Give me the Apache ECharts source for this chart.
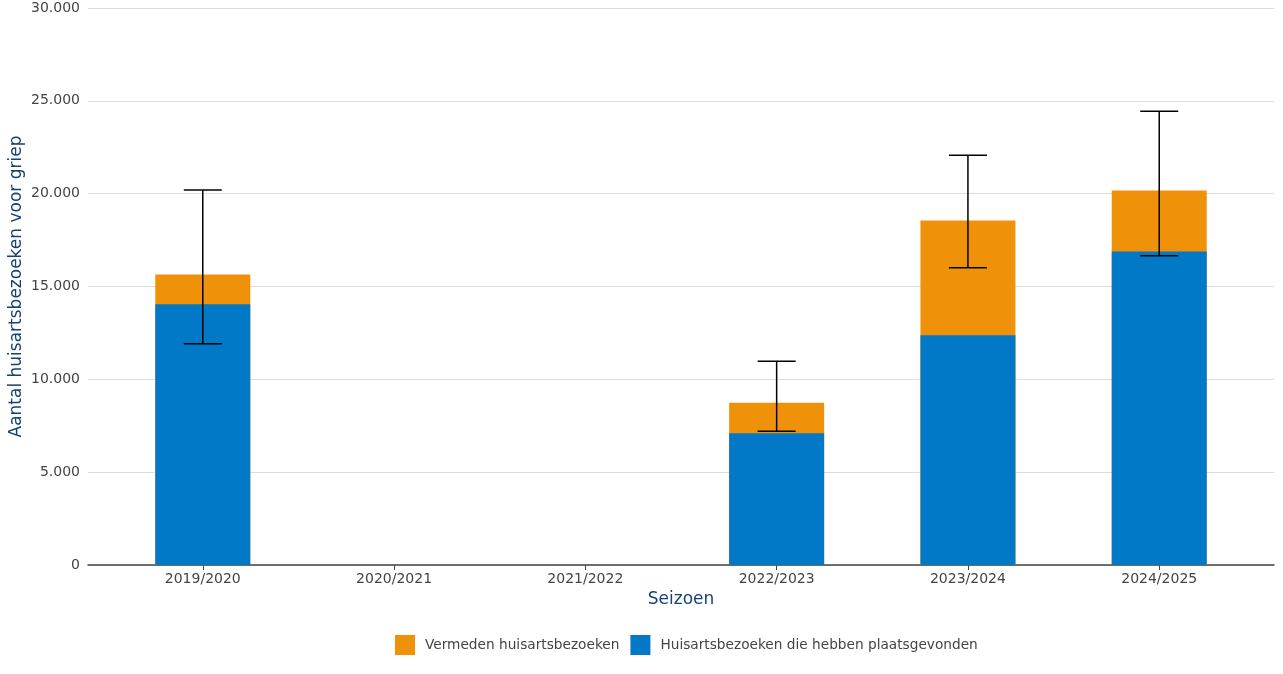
<!DOCTYPE html>
<html>
<head>
<meta charset="utf-8">
<script src="https://cdn.jsdelivr.net/npm/echarts@6/dist/echarts.min.js"></script>
<style>
html,body{margin:0;padding:0;background:#fff;}
#chart{width:1283px;height:674px;}
</style>
</head>
<body>
<div id="chart"></div>
<script>
// Data
const categories = ['2019/2020', '2020/2021', '2021/2022', '2022/2023', '2023/2024', '2024/2025'];
const occurredVisits = [14050, null, null, 7090, 12370, 16880];   // Huisartsbezoeken die hebben plaatsgevonden
const avoidedVisits  = [1600,  null, null, 1650, 6180, 3290];     // Vermeden huisartsbezoeken
const errorLow  = [11920, null, null, 7200, 16010, 16660];
const errorHigh = [20200, null, null, 10970, 22070, 24440];
const yTicks = [0, 5000, 10000, 15000, 20000, 25000, 30000];

const nameOccurred = 'Huisartsbezoeken die hebben plaatsgevonden';
const nameAvoided = 'Vermeden huisartsbezoeken';

const FONT = 'DejaVu Sans';
const TITLE_COLOR = '#154273';
const TEXT_COLOR = '#444';

function fmt(v) {
  return String(v).replace(/\B(?=(\d{3})+(?!\d))/g, '.');
}

const idx = categories.map((c, i) => i);
const valid = idx.filter(i => occurredVisits[i] != null);
// blue part (bottom of stack)
const occData = valid.map(i => [i, occurredVisits[i]]);
// orange part sits on top of the blue part: drawn as the stack total behind the blue bar
const totalData = valid.map(i => [i, occurredVisits[i] + avoidedVisits[i]]);
const errData = idx.filter(i => errorLow[i] != null).map(i => [i, errorLow[i], errorHigh[i]]);

const chart = echarts.init(document.getElementById('chart'), null, {renderer: 'canvas'});

chart.setOption({
  animation: false,
  backgroundColor: '#fff',
  textStyle: {fontFamily: FONT},
  grid: {left: 88, right: 9, top: 8, bottom: 109, containLabel: false, outerBoundsMode: 'none'},
  legend: {
    data: [nameAvoided, nameOccurred],
    left: 395,
    top: 635,
    padding: 0,
    icon: 'rect',
    itemWidth: 20,
    itemHeight: 20,
    itemGap: 11,
    textStyle: {fontFamily: FONT, fontSize: 13.7, color: TEXT_COLOR, padding: [0, 0, 0, 5]},
    selectedMode: false
  },
  xAxis: {
    type: 'value',
    min: -0.6,
    max: 5.6,
    name: 'Seizoen',
    nameLocation: 'middle',
    nameGap: 24,
    nameTextStyle: {fontFamily: FONT, fontSize: 17, color: TITLE_COLOR},
    axisLine: {show: true, lineStyle: {color: '#444', width: 1.5}},
    axisTick: {show: true, length: 5, customValues: idx, lineStyle: {color: '#444', width: 1}},
    axisLabel: {
      customValues: idx,
      fontFamily: FONT, fontSize: 14, color: TEXT_COLOR, margin: 7,
      formatter: v => categories[Math.round(v)] || ''
    },
    splitLine: {show: false}
  },
  yAxis: {
    type: 'value',
    min: 0,
    max: 30000,
    interval: 5000,
    name: 'Aantal huisartsbezoeken voor griep',
    nameLocation: 'middle',
    nameGap: 63,
    nameMoveOverlap: false,
    nameTextStyle: {fontFamily: FONT, fontSize: 17, color: TITLE_COLOR},
    axisLine: {show: false},
    axisTick: {show: false},
    axisLabel: {fontFamily: FONT, fontSize: 14, color: TEXT_COLOR, margin: 8, formatter: v => fmt(v)},
    splitLine: {show: true, lineStyle: {color: '#dddddd', width: 1}}
  },
  series: [
    {
      name: nameAvoided,
      type: 'bar',
      barWidth: 95,
      barGap: '-100%',
      z: 2,
      itemStyle: {color: '#f09209'},
      data: totalData
    },
    {
      name: nameOccurred,
      type: 'bar',
      barWidth: 95,
      barGap: '-100%',
      z: 3,
      itemStyle: {color: '#0279c7'},
      data: occData
    },
    {
      name: 'error',
      type: 'custom',
      data: errData,
      z: 10,
      encode: {x: 0, y: [1, 2]},
      renderItem: function (params, api) {
        const x = api.value(0);
        const lo = api.coord([x, api.value(1)]);
        const hi = api.coord([x, api.value(2)]);
        const half = 19;
        const style = {stroke: '#000', lineWidth: 1.5};
        return {
          type: 'group',
          children: [
            {type: 'line', shape: {x1: lo[0], y1: lo[1], x2: hi[0], y2: hi[1]}, style: style},
            {type: 'line', shape: {x1: lo[0] - half, y1: lo[1], x2: lo[0] + half, y2: lo[1]}, style: style},
            {type: 'line', shape: {x1: hi[0] - half, y1: hi[1], x2: hi[0] + half, y2: hi[1]}, style: style}
          ]
        };
      }
    }
  ]
});
</script>
</body>
</html>
